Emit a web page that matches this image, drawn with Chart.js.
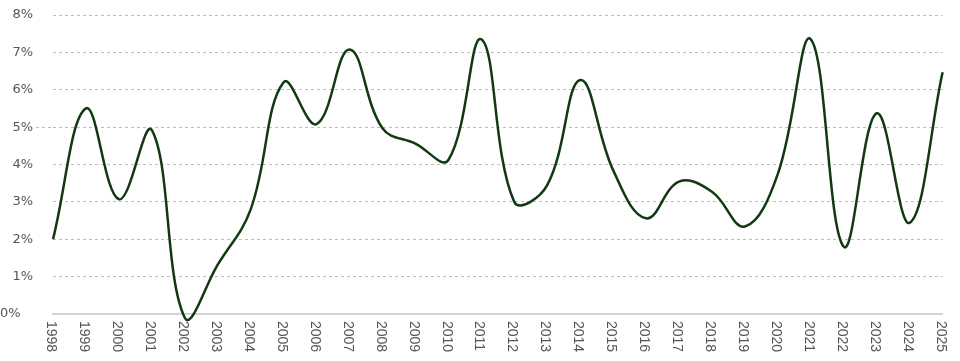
<!DOCTYPE html>
<html>
<head>
<meta charset="utf-8">
<script src="https://cdn.jsdelivr.net/npm/chart.js@4"></script>
<style>
  html, body { margin: 0; padding: 0; background: #fff; }
  #wrap { width: 960px; height: 361px; }
</style>
</head>
<body>
<div id="wrap"><canvas id="chart"></canvas></div>
<script>
// années et taux (%)
const years = ['1998', '1999', '2000', '2001', '2002', '2003', '2004', '2005', '2006', '2007',
  '2008', '2009', '2010', '2011', '2012', '2013', '2014', '2015', '2016', '2017',
  '2018', '2019', '2020', '2021', '2022', '2023', '2024', '2025'];
const rates = [2.0, 5.5, 3.07, 4.92, -0.1, 1.32, 2.8, 6.2, 5.08, 7.08,
  4.97, 4.56, 4.12, 7.35, 3.0, 3.45, 6.26, 3.85, 2.56, 3.54,
  3.27, 2.34, 3.75, 7.35, 1.8, 5.37, 2.44, 6.47];
const yTicks = [0, 1, 2, 3, 4, 5, 6, 7, 8];

// étiquettes de l'axe X tournées de 90° (lecture de haut en bas)
const xLabelsPlugin = {
  id: 'xLabels',
  afterDraw(chart) {
    const ctx = chart.ctx;
    const x = chart.scales.x;
    ctx.save();
    ctx.font = '14px "Liberation Sans", Arial, sans-serif';
    ctx.fillStyle = '#555';
    ctx.textAlign = 'left';
    ctx.textBaseline = 'middle';
    years.forEach((lab, i) => {
      const px = x.getPixelForValue(i) - 2;
      ctx.save();
      ctx.translate(px, x.top + 7);
      ctx.rotate(Math.PI / 2);
      ctx.fillText(lab, 0, 0);
      ctx.restore();
    });
    ctx.restore();
  }
};

new Chart(document.getElementById('chart'), {
  type: 'line',
  data: {
    labels: years,
    datasets: [{
      data: rates,
      borderColor: '#123a12',
      borderWidth: 2.5,
      tension: 0.4,
      pointRadius: 0,
      fill: false,
      clip: false
    }]
  },
  options: {
    responsive: true,
    maintainAspectRatio: false,
    animation: false,
    layout: { padding: { top: 15, right: 17, left: 0, bottom: 0 } },
    plugins: { legend: { display: false }, tooltip: { enabled: false } },
    scales: {
      x: {
        grid: { display: false },
        border: { display: true, color: '#d3d3d3', width: 2 },
        ticks: { color: 'transparent', autoSkip: false, minRotation: 90, maxRotation: 90 },
        afterFit(scale) { scale.height = 47; }
      },
      y: {
        min: 0,
        max: 8,
        afterBuildTicks(scale) { scale.ticks = yTicks.map(v => ({ value: v })); },
        afterFit(scale) { scale.width = 53; },
        border: { display: false, dash: [3, 3] },
        grid: {
          color: c => c.tick && c.tick.value === 0 ? 'transparent' : '#bdbdbd',
          lineWidth: 1,
          drawTicks: true,
          tickLength: 17,
          tickColor: c => c.tick && c.tick.value === 5 ? '#bdbdbd' : 'transparent',
          tickBorderDash: [3, 3]
        },
        ticks: {
          padding: 3,
          color: '#555',
          font: { family: '"DejaVu Sans", Verdana, sans-serif', size: 13 },
          callback: v => v === 0 ? '0%   ' : v + '%'
        }
      }
    }
  },
  plugins: [xLabelsPlugin]
});
</script>
</body>
</html>
